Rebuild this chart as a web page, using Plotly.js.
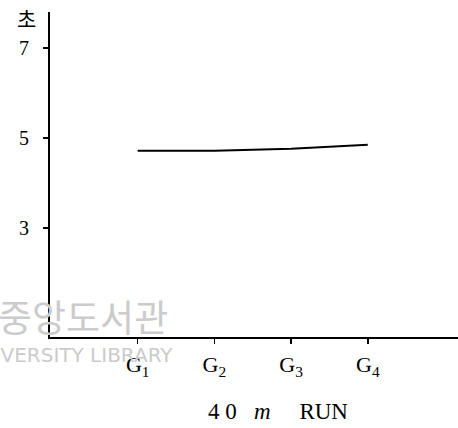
<!DOCTYPE html>
<html>
<head>
<meta charset="utf-8">
<script src="https://cdn.plot.ly/plotly-3.0.1.min.js"></script>
<style>html,body{margin:0;padding:0;background:#fff;}#chart{width:458px;height:428px;}</style>
</head>
<body>
<div id="chart"></div>
<script>
const groupLabels = ['G<sub>1</sub>', 'G<sub>2</sub>', 'G<sub>3</sub>', 'G<sub>4</sub>'];
const groupPos = [1, 2, 3, 4];
const runTime = [4.72, 4.72, 4.76, 4.85];
const yTickVals = [3, 5, 7];
const yTickText = ['3', '5', '7'];

const serif = 'Liberation Serif, Times New Roman, serif';
const L = 50, W = 458, T = 12, B = 337;
const px = x => (x - L) / (W - L);
const py = y => (B - y) / (B - T);

const trace = {
  x: groupPos,
  y: runTime,
  type: 'scatter',
  mode: 'lines',
  line: {color: '#000', width: 2},
  hoverinfo: 'skip'
};

const layout = {
  width: 458, height: 428,
  margin: {l: L, r: 0, t: T, b: 428 - B, pad: 0},
  paper_bgcolor: '#fff', plot_bgcolor: '#fff',
  showlegend: false,
  xaxis: {
    range: [-0.143, 5.176],
    tickvals: groupPos, ticktext: groupLabels,
    showline: true, linecolor: '#000', linewidth: 2,
    ticks: 'outside', ticklen: 5, tickcolor: '#000', tickwidth: 1.5,
    showgrid: false, zeroline: false,
    tickfont: {family: serif, size: 22, color: '#000'},
    ticklabelstandoff: 2
  },
  yaxis: {
    range: [0.58, 7.8],
    tickvals: yTickVals, ticktext: yTickText,
    showline: true, linecolor: '#000', linewidth: 2,
    ticks: 'outside', ticklen: 5, tickcolor: '#000', tickwidth: 1.5,
    showgrid: false, zeroline: false,
    tickfont: {family: serif, size: 20, color: '#000'},
    ticklabelstandoff: 10
  },
  annotations: [
    {text: '초', xref: 'paper', yref: 'paper', x: px(26), y: py(18), xanchor: 'center', yanchor: 'middle',
     showarrow: false, font: {family: 'Noto Sans CJK KR', size: 21, color: '#000'}},
    {text: '4\u00A00\u00A0\u00A0 <i>m</i>\u00A0\u00A0\u00A0\u00A0 RUN', xref: 'paper', yref: 'paper', x: px(278), y: py(411), xanchor: 'center', yanchor: 'middle',
     showarrow: false, font: {family: serif, size: 23, color: '#000'}},
    {text: '중앙도서관', xref: 'paper', yref: 'paper', x: px(83), y: py(316), xanchor: 'center', yanchor: 'middle',
     showarrow: false, font: {family: 'Noto Sans CJK KR', size: 37, color: '#cbcbcb'}},
    {text: 'UNIVERSITY LIBRARY', xref: 'paper', yref: 'paper', x: px(175), y: py(355), xanchor: 'right', yanchor: 'middle',
     showarrow: false, font: {family: 'DejaVu Sans', size: 20, color: '#cbcbcb'}}
  ]
};

Plotly.newPlot('chart', [trace], layout, {displayModeBar: false, staticPlot: true});
</script>
</body>
</html>
